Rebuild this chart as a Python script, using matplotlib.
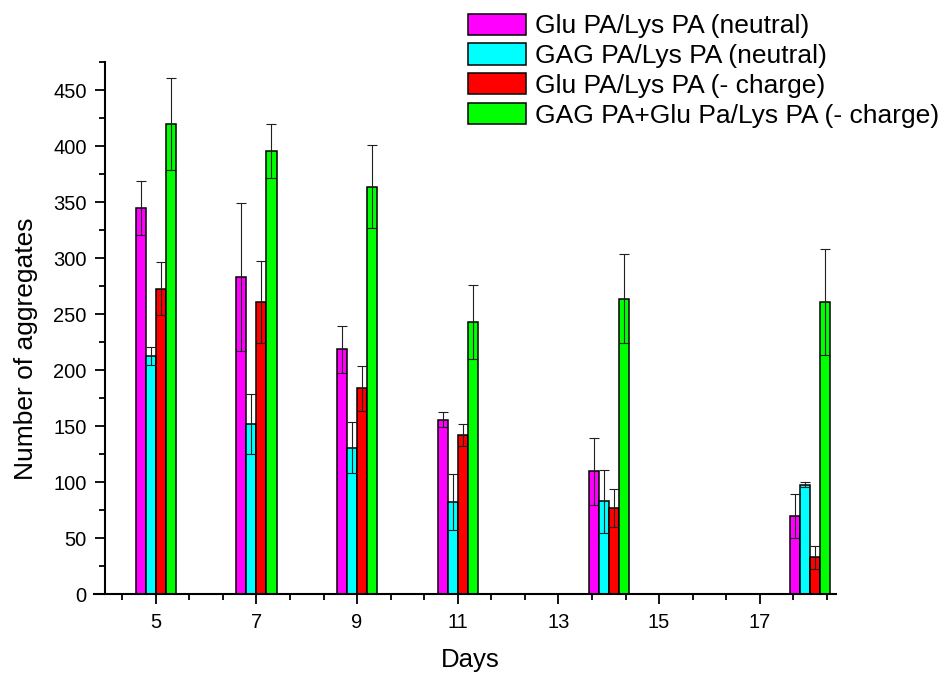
import numpy as np
import matplotlib.pyplot as plt
from matplotlib.ticker import FixedLocator, MultipleLocator

plt.rcParams['font.family'] = ['Liberation Sans', 'DejaVu Sans']

days = [5, 7, 9, 11, 14, 18]

labels = ['Glu PA/Lys PA (neutral)',
          'GAG PA/Lys PA (neutral)',
          'Glu PA/Lys PA (- charge)',
          'GAG PA+Glu Pa/Lys PA (- charge)']
colors = ['#ff00ff', '#00ffff', '#ff0000', '#00ff00']

glu_neutral = [345, 283, 219, 156, 110, 70]
glu_neutral_err = [24, 66, 21, 7, 30, 20]
gag_neutral = [213, 152, 131, 82, 83, 98]
gag_neutral_err = [8, 27, 23, 25, 28, 2]
glu_charge = [273, 261, 184, 142, 77, 33]
glu_charge_err = [24, 37, 20, 10, 17, 10]
gag_glu_charge = [420, 396, 364, 243, 264, 261]
gag_glu_charge_err = [41, 24, 37, 33, 40, 47]

series = [glu_neutral, gag_neutral, glu_charge, gag_glu_charge]
errors = [glu_neutral_err, gag_neutral_err, glu_charge_err, gag_glu_charge_err]

fig = plt.figure(figsize=(9.46, 6.78), dpi=100)
ax = fig.add_axes([0.0997, 0.1234, 0.8840 - 0.0997, 0.9081 - 0.1234])

width = 0.2
offsets = [-0.3, -0.1, 0.1, 0.3]
x = np.array(days, dtype=float)
for vals, errs, off, col, lab in zip(series, errors, offsets, colors, labels):
    ax.bar(x + off, vals, width, color=col, edgecolor='black', linewidth=1.1,
           label=lab, zorder=2)
    ax.errorbar(x + off, vals, yerr=errs, fmt='none', ecolor='#202020',
                elinewidth=0.8, capsize=3.6, capthick=0.8, zorder=3)

ax.set_xlim(3.78, 18.52)
ax.set_ylim(0, 475)

# y axis sits at day 4, the x axis line runs a little past it
ax.spines['left'].set_position(('data', 4.0))
ax.spines['top'].set_visible(False)
ax.spines['right'].set_visible(False)
for s in ['left', 'bottom']:
    ax.spines[s].set_linewidth(1.5)

ax.xaxis.set_major_locator(FixedLocator([5, 7, 9, 11, 13, 15, 17]))
minor_x = [5 + k * 2 / 3 for k in range(-1, 21) if k % 3 != 0]
ax.xaxis.set_minor_locator(FixedLocator(minor_x))
ax.yaxis.set_major_locator(MultipleLocator(50))
ax.yaxis.set_minor_locator(MultipleLocator(25))
ax.tick_params(which='major', direction='out', length=7.5, width=1.3,
               labelsize=14.5, pad=6)
ax.tick_params(which='minor', direction='out', length=4, width=1.3)

ax.set_xlabel('Days', fontsize=18.5)
ax.set_ylabel('Number of aggregates', fontsize=19)
ax.xaxis.set_label_coords(0.5066, -0.101)
ax.yaxis.set_label_coords(-0.076, 0.461)

fig.legend(loc='upper left', bbox_to_anchor=(0.4947, 0.98), frameon=False,
           fontsize=19, handlelength=2.2, handleheight=0.85,
           handletextpad=0.35, labelspacing=0.2, borderpad=0,
           borderaxespad=0)

plt.savefig('out.png', dpi=100)
